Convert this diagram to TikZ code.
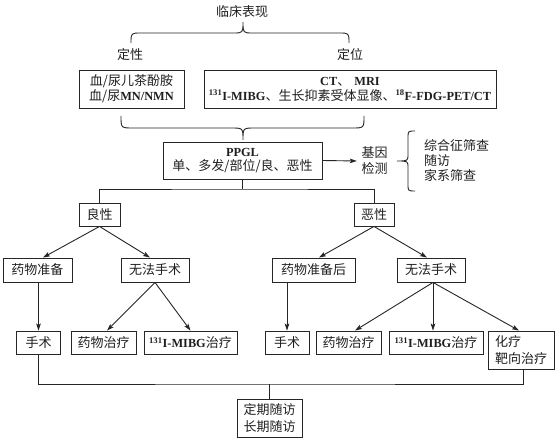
\documentclass[tikz,border=0pt]{standalone}
\usepackage{fontspec}
\setmainfont{Noto Sans CJK SC}
\newfontfamily\lat{Liberation Serif}[Scale=0.95]
\usetikzlibrary{arrows.meta}
\newcommand\la[1]{{\lat\bfseries #1}}
\colorlet{lc}{black!85}
\tikzset{
  box/.style={draw=lc, line width=0.9pt, inner sep=0pt, align=center},
  lbl/.style={inner sep=0pt, align=center},
  con/.style={draw=lc, line width=0.9pt},
  arr/.style={draw=lc, line width=0.9pt, -{Stealth[length=7pt,width=4.6pt,inset=1.5pt]}},
}
\begin{document}
\begin{tikzpicture}[x=1pt,y=-1pt,font=\fontsize{13}{16}\selectfont,text=black!88]
\useasboundingbox (0,0) rectangle (557,443);
% top labels
\node[lbl] (title) at (242,12) {临床表现};
\node[lbl] (dx) at (130,55) {定性};
\node[lbl] (dw) at (350,55) {定位};
% braces
\draw[con] (131,43) .. controls (131,33) .. (141,33) -- (233,33) .. controls (243,33) .. (243,22) .. controls (243,33) .. (253,33) -- (339,33) .. controls (349,33) .. (349,43);
\node[box, minimum width=105pt, minimum height=38pt, font=\fontsize{13}{15}\selectfont] (b1) at (131.5,89) {血/尿儿茶酚胺\\血/尿\la{MN/NMN}};
\node[box, minimum width=292pt, minimum height=38pt, font=\fontsize{13}{15}\selectfont] (b2) at (350,89) {\la{CT}、\hspace{4pt}\la{MRI}\\\la{\textsuperscript{131}I-MIBG}、生长抑素受体显像、\la{\textsuperscript{18}F-FDG-PET/CT}};
\draw[con] (121,116) .. controls (121,128) .. (133,128) -- (231,128) .. controls (243,128) .. (243,140) .. controls (243,128) .. (255,128) -- (352,128) .. controls (364,128) .. (364,116);
% PPGL
\node[box, minimum width=159pt, minimum height=37pt, font=\fontsize{13}{14}\selectfont] (ppgl) at (242.5,160.5) {\la{PPGL}\\单、多发/部位/良、恶性};
\node[lbl, inner sep=4.5pt] (gene) at (374.5,161) {基因\\检测};
\draw[arr] (ppgl.east) -- (gene.west);
\draw[con] (415,131) .. controls (408,131) .. (408,138) -- (408,154) .. controls (408,161) .. (397,161) .. controls (408,161) .. (408,168) -- (408,184) .. controls (408,191) .. (415,191);
\node[lbl, anchor=west, align=left, font=\fontsize{13}{15}\selectfont] (list) at (424,161) {综合征筛查\\随访\\家系筛查};
% second level
\node[box, minimum width=41pt, minimum height=23pt] (liang) at (99.5,214.5) {良性};
\node[box, minimum width=40pt, minimum height=23pt] (e) at (374,214.5) {恶性};
\coordinate (jn) at (242.5,189);
\draw[con] (ppgl.south) -- (jn);
\draw[con] (liang.north) |- (jn) -| (e.north);
% third level
\node[box, minimum width=69pt, minimum height=24pt] (yw1) at (37.5,270) {药物准备};
\node[box, minimum width=68pt, minimum height=24pt] (wf1) at (155,270) {无法手术};
\node[box, minimum width=83pt, minimum height=24pt] (yw2) at (313.5,270) {药物准备后};
\node[box, minimum width=68pt, minimum height=24pt] (wf2) at (431,270) {无法手术};
\draw[arr] (liang.south) -- ([xshift=5.5pt]yw1.north);
\draw[arr] (liang.south) -- ([xshift=-5pt]wf1.north);
\draw[arr] (e.south) -- ([xshift=5.5pt]yw2.north);
\draw[arr] (e.south) -- ([xshift=-4pt]wf2.north);
% fourth level
\node[box, minimum width=44pt, minimum height=23pt] (ss1) at (38.5,342.5) {手术};
\node[box, minimum width=65pt, minimum height=23pt] (yz1) at (103.5,342.5) {药物治疗};
\node[box, minimum width=93pt, minimum height=23pt] (mibg1) at (190.5,342.5) {\la{\textsuperscript{131}I-MIBG}治疗};
\node[box, minimum width=44pt, minimum height=23pt] (ss2) at (287,342.5) {手术};
\node[box, minimum width=65pt, minimum height=23pt] (yz2) at (348.5,342.5) {药物治疗};
\node[box, minimum width=94pt, minimum height=23pt] (mibg2) at (436,342.5) {\la{\textsuperscript{131}I-MIBG}治疗};
\node[box, minimum width=66pt, minimum height=38pt, align=left, font=\fontsize{13}{17}\selectfont] (hl) at (521,350) {化疗\\靶向治疗};
\draw[arr] (ss1.north |- yw1.south) -- (ss1.north);
\draw[arr] (wf1.south) -- ([xshift=3.5pt]yz1.north);
\draw[arr] (wf1.south) -- (mibg1.north);
\draw[arr] (ss2.north |- yw2.south) -- (ss2.north);
\draw[arr] ([xshift=2pt]wf2.south) -- ([xshift=6.5pt]yz2.north);
\draw[arr] ([xshift=2pt]wf2.south) -- ([xshift=2pt]wf2.south |- mibg2.north);
\draw[arr] ([xshift=2pt]wf2.south) -- ([xshift=-2pt]hl.north);
% follow-up
\node[box, minimum width=65pt, minimum height=38pt, font=\fontsize{13}{17}\selectfont] (fu) at (269.5,418) {定期随访\\长期随访};
\coordinate (bl) at (269.5,384);
\draw[con] (ss1.south) |- (bl) -| ([xshift=2pt]hl.south);
\draw[con] (fu.north) -- (bl);
\end{tikzpicture}
\end{document}
